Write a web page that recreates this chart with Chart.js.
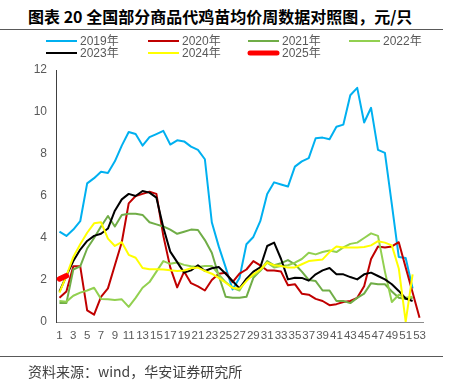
<!DOCTYPE html>
<html>
<head>
<meta charset="utf-8">
<script src="https://cdn.jsdelivr.net/npm/chart.js@4/dist/chart.umd.min.js"></script>
<style>
html,body{margin:0;padding:0;background:#fff;}
#wrap{position:relative;width:450px;height:387px;overflow:hidden;background:#fff;}
#title{position:absolute;left:28px;top:5px;white-space:nowrap;font-family:"Noto Sans CJK SC",sans-serif;font-weight:bold;font-size:16px;line-height:22px;letter-spacing:0px;color:#000;}
.rule{position:absolute;left:0;width:443px;height:1px;background:#595959;}
#footer{position:absolute;left:28px;top:361px;white-space:nowrap;font-family:"Noto Sans CJK SC",sans-serif;font-size:14px;line-height:20px;color:#404040;}
#c{position:absolute;left:0;top:0;}
</style>
</head>
<body>
<div id="wrap">
  <div id="title">图表 20 全国部分商品代鸡苗均价周数据对照图，元/只</div>
  <div class="rule" style="top:29px"></div>
  <canvas id="c" width="450" height="387"></canvas>
  <div class="rule" style="top:356px"></div>
  <div id="footer">资料来源：wind，华安证券研究所</div>
</div>
<script>
const weeks = ['1','2','3','4','5','6','7','8','9','10','11','12','13','14','15','16','17','18','19','20','21','22','23','24','25','26','27','28','29','30','31','32','33','34','35','36','37','38','39','40','41','42','43','44','45','46','47','48','49','50','51','52','53'];
const seriesNames = ['2019年','2020年','2021年','2022年','2023年','2024年','2025年'];
const yTicks = [0,2,4,6,8,10,12];

const y2019 = [4.3,4.1,4.4,4.8,6.6,6.85,7.15,7.1,7.65,8.4,9.05,8.95,8.4,8.8,8.95,9.1,8.45,8.65,8.6,8.35,8.2,7.75,4.75,3.6,2.6,1.55,2.1,3.7,4.05,4.8,6.1,6.65,6.55,6.45,7.4,7.65,7.8,8.75,8.78,8.7,9.3,9.4,10.8,11.15,9.5,10.2,8.2,8.05,5.6,3.1,3.05,1.6];
const y2020 = [1.15,1.45,2.65,2.65,0.55,0.35,1.2,1.6,2.7,3.8,5.65,6.0,6.1,6.2,6.1,4.1,2.6,1.65,2.4,1.85,1.7,1.5,2.0,2.3,2.35,1.9,2.3,2.5,2.9,2.7,2.45,2.45,2.4,1.75,1.8,1.35,1.3,1.1,1.0,0.8,0.85,0.95,1.0,1.15,1.7,3.0,3.6,3.55,3.6,3.8,2.6,1.4,0.2];
const y2021 = [0.9,0.9,2.5,2.65,3.5,4.0,4.55,5.05,4.55,5.1,5.15,5.15,5.1,4.75,4.65,4.55,4.4,4.2,4.3,4.4,4.38,3.9,3.3,2.2,1.2,1.15,1.15,1.2,2.1,2.45,2.9,2.7,2.8,2.95,2.75,2.4,2.0,1.95,1.5,1.5,1.0,1.0,0.9,1.15,1.35,1.85,1.8,1.8,1.45,1.15,1.1,1.15];
const y2022 = [1.0,0.97,1.25,1.4,1.5,1.63,1.1,1.08,1.05,1.08,0.72,1.15,1.63,1.9,2.4,2.9,2.77,2.83,2.72,2.65,2.62,2.67,2.67,2.27,1.9,1.63,1.5,2.05,2.2,2.43,2.83,2.6,2.67,2.7,2.83,3.0,3.3,3.22,3.33,3.4,3.33,3.55,3.72,3.78,4.0,4.22,4.1,2.4,0.95,1.3,1.15,1.2];
const y2023 = [1.45,2.2,2.9,3.45,3.86,4.1,4.2,4.45,5.3,5.84,6.1,6.0,6.24,6.16,5.92,4.5,3.35,2.85,2.35,2.46,2.7,2.43,2.56,2.62,2.3,1.95,1.6,2.05,2.4,2.6,3.62,3.78,3.0,2.03,2.11,2.1,1.97,2.27,2.46,2.57,2.27,2.27,2.14,2.03,2.27,2.35,2.19,2.03,1.8,1.48,1.12,1.0];
const y2024 = [1.4,2.2,3.1,3.7,4.25,4.7,4.75,3.97,3.62,3.8,3.2,3.06,2.57,2.51,2.51,2.5,2.46,2.43,2.45,2.56,2.59,2.43,2.3,2.1,1.87,1.63,1.58,1.95,2.27,2.5,2.83,2.7,2.67,2.59,2.6,2.75,2.9,2.94,2.98,3.33,3.6,3.55,3.55,3.55,3.57,3.65,3.85,3.78,3.65,2.55,0.02,2.27];
const y2025 = [2.05,2.2];

const seriesData = [y2019,y2020,y2021,y2022,y2023,y2024,y2025];
const seriesColors = ['#00B0F0','#C00000','#70AD47','#92D050','#000000','#FFFF00','#FF0000'];
const seriesWidths = [2,2,2,2,2,2,5.5];

const FONT = '"Liberation Sans","Noto Sans CJK SC",sans-serif';

const gridLegend = {
  id: 'gridLegend',
  afterDraw(chart) {
    const ctx = chart.ctx;
    const cols = [46,148,248,349];
    const rows = [41,53];
    chart.data.datasets.forEach((ds, i) => {
      const x = cols[i % 4], y = rows[Math.floor(i / 4)];
      ctx.save();
      ctx.strokeStyle = ds.borderColor;
      ctx.lineWidth = ds.borderWidth > 3 ? 5 : 2;
      ctx.lineCap = ds.borderWidth > 3 ? 'round' : 'butt';
      ctx.beginPath();
      const inset = ds.borderWidth > 3 ? 2 : 0;
      ctx.moveTo(x + inset, y); ctx.lineTo(x + 31 - inset, y);
      ctx.stroke();
      ctx.fillStyle = '#595959';
      ctx.font = '12px ' + FONT;
      ctx.textBaseline = 'middle';
      ctx.textAlign = 'left';
      ctx.fillText(ds.label, x + 34, y + 0.5);
      ctx.restore();
    });
  }
};

const datasets = seriesNames.map((name, i) => ({
  label: name,
  data: seriesData[i],
  borderColor: seriesColors[i],
  backgroundColor: seriesColors[i],
  borderWidth: seriesWidths[i],
  pointRadius: 0,
  pointHoverRadius: 0,
  tension: 0,
  fill: false,
  spanGaps: false,
  borderCapStyle: i === 6 ? 'round' : 'butt',
  borderJoinStyle: 'round',
  order: 10 - i
}));

new Chart(document.getElementById('c'), {
  type: 'line',
  data: { labels: weeks, datasets },
  options: {
    responsive: false,
    animation: false,
    events: [],
    layout: { padding: { top: 70, right: 27, bottom: 35, left: 0 } },
    plugins: { legend: { display: false }, title: { display: false }, tooltip: { enabled: false } },
    scales: {
      x: {
        type: 'category',
        offset: true,
        grid: { display: false, drawTicks: false },
        border: { display: true, color: '#8c8c8c', width: 1 },
        ticks: {
          autoSkip: false, maxRotation: 0, minRotation: 0, padding: 7,
          color: '#595959', font: { size: 11.5, family: FONT },
          callback: function(v, idx) { return idx % 2 === 0 ? weeks[idx] : ''; }
        },
        afterFit: s => { s.height = 30; }
      },
      y: {
        min: 0, max: 12,
        afterBuildTicks: s => { s.ticks = yTicks.map(v => ({ value: v })); },
        grid: { display: false, drawTicks: false },
        border: { display: true, color: '#404040', width: 1 },
        ticks: { padding: 9, color: '#595959', font: { size: 12, family: FONT } },
        afterFit: s => { s.width = 56; }
      }
    }
  },
  plugins: [gridLegend]
});
</script>
</body>
</html>
